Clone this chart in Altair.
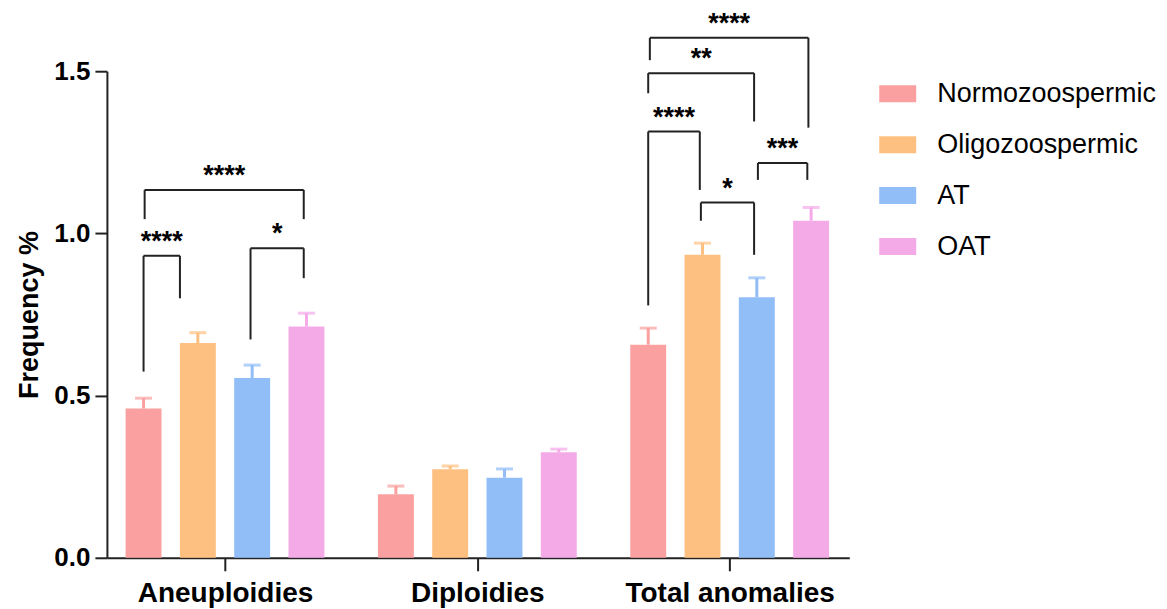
import json
import altair as alt
import pandas as pd

# ---------------- data ----------------
categories = ["Aneuploidies", "Diploidies", "Total anomalies"]
groups = ["Normozoospermic", "Oligozoospermic", "AT", "OAT"]
colors = ["#FAA0A0", "#FEC080", "#92BEF8", "#F5AAE8"]

aneuploidies_mean = [0.460, 0.662, 0.554, 0.713]
aneuploidies_sem = [0.032, 0.032, 0.040, 0.041]
diploidies_mean = [0.196, 0.273, 0.247, 0.325]
diploidies_sem = [0.025, 0.010, 0.027, 0.010]
total_mean = [0.657, 0.934, 0.803, 1.039]
total_sem = [0.051, 0.036, 0.060, 0.041]

y_ticks = [0.0, 0.5, 1.0, 1.5]

# significance brackets (category index, leg positions in group slots, leg ends, top, label)
br_category = [0, 0, 0, 2, 2, 2, 2, 2]
br_left_slot = [0.0, 1.97, 0.02, 0.0, 0.0, 0.03, 0.97, 2.02]
br_right_slot = [0.67, 2.95, 2.95, 0.95, 1.95, 2.95, 1.95, 2.93]
br_left_end = [0.574, 0.673, 1.044, 0.778, 1.432, 1.534, 1.039, 1.165]
br_right_end = [0.800, 0.862, 1.044, 1.134, 1.345, 1.326, 0.934, 1.165]
br_top = [0.931, 0.954, 1.134, 1.314, 1.494, 1.603, 1.095, 1.217]
br_label = ["****", "*", "****", "****", "**", "****", "*", "***"]

# ---------------- layout constants ----------------
FONT = "Liberation Sans, Arial, sans-serif"
SLOT = 0.2152      # width of one group slot, in category units
HALF = 0.0712      # half bar width, in category units
X_DOMAIN = [-0.468, 2.474]
INK = "#222222"


def pos(c, slot):
    return c + (slot - 1.5) * SLOT


means = [aneuploidies_mean, diploidies_mean, total_mean]
sems = [aneuploidies_sem, diploidies_sem, total_sem]
rows = []
for ci, cat in enumerate(categories):
    for gi, grp in enumerate(groups):
        xc = pos(ci, gi)
        rows.append({
            "category": cat, "group": grp, "base": 0.0,
            "mean": means[ci][gi], "upper": means[ci][gi] + sems[ci][gi],
            "xc": xc, "x": xc - HALF, "x2": xc + HALF,
        })
bars_df = pd.DataFrame(rows)

seg_rows, txt_rows = [], []
for i in range(len(br_label)):
    xl = pos(br_category[i], br_left_slot[i])
    xr = pos(br_category[i], br_right_slot[i])
    t = br_top[i]
    seg_rows.append({"x": xl, "x2": xl, "y": br_left_end[i], "y2": t})
    seg_rows.append({"x": xl, "x2": xr, "y": t, "y2": t})
    seg_rows.append({"x": xr, "x2": xr, "y": t, "y2": br_right_end[i]})
    txt_rows.append({"x": (xl + xr) / 2, "y": t, "label": br_label[i]})
seg_df = pd.DataFrame(seg_rows)
txt_df = pd.DataFrame(txt_rows)

xscale = alt.Scale(domain=X_DOMAIN, nice=False, zero=False)
yscale = alt.Scale(domain=[0, 1.5], nice=False)
cscale = alt.Scale(domain=groups, range=colors)

label_expr = json.dumps(categories) + "[datum.value]"

x_axis = alt.Axis(
    values=[0, 1, 2], labelExpr=label_expr, title=None, grid=False,
    tickSize=13, tickWidth=2, tickColor=INK, domainWidth=2, domainColor=INK,
    labelFont=FONT, labelFontSize=28, labelFontWeight="bold", labelColor="black",
    labelPadding=9, labelFlush=False, labelOverlap=False, labelLimit=0,
)
y_axis = alt.Axis(
    values=y_ticks, format=".1f", title="Frequency %", grid=False,
    tickSize=12, tickWidth=2, tickColor=INK, domainWidth=2, domainColor=INK,
    labelFont=FONT, labelFontSize=26, labelFontWeight="bold", labelColor="black",
    labelPadding=5, titleFont=FONT, titleFontSize=27, titleFontWeight="bold",
    titleColor="black", titlePadding=10,
)

symbol_path = "M-1,-0.46L1,-0.46L1,0.46L-1,0.46Z"
legend = alt.Legend(
    title=None, orient="none", legendX=773, legendY=4,
    symbolType=symbol_path, symbolSize=1369, symbolStrokeWidth=0, symbolOpacity=1,
    labelFont=FONT, labelFontSize=27, labelColor="black", labelOffset=21,
    labelLimit=0, rowPadding=19, padding=0,
)


def X(field):
    return alt.X(field, type="quantitative", scale=xscale, axis=x_axis)


def Y(field):
    return alt.Y(field, type="quantitative", scale=yscale, axis=y_axis)


color = alt.Color("group:N", scale=cscale, legend=legend)

err = alt.Chart(bars_df).mark_rule(strokeWidth=3).encode(
    x=X("xc"), y=Y("mean"), y2="upper:Q", color=color,
)

bars = alt.Chart(bars_df).mark_bar().encode(
    x=X("x"), x2="x2:Q", y=Y("base"), y2="mean:Q", color=color,
)

caps = alt.Chart(bars_df).mark_tick(orient="horizontal", size=17, thickness=3).encode(
    x=X("xc"), y=Y("upper"), color=color,
)

brackets = alt.Chart(seg_df).mark_rule(color=INK, strokeWidth=2).encode(
    x=X("x"), x2="x2:Q", y=Y("y"), y2="y2:Q",
)

stars = alt.Chart(txt_df).mark_text(
    font=FONT, fontSize=27, fontWeight="bold", baseline="alphabetic", dy=-6, color="black"
).encode(
    x=X("x"), y=Y("y"), text="label:N",
)

chart = alt.layer(err, bars, caps, brackets, stars).properties(
    width=743, height=487,
    autosize=alt.AutoSizeParams(type="none"),
    padding={"left": 99, "top": 63, "right": 310, "bottom": 52},
).configure_view(stroke=None)

chart.save("out.html", embed_options={"renderer": "svg", "actions": False})
